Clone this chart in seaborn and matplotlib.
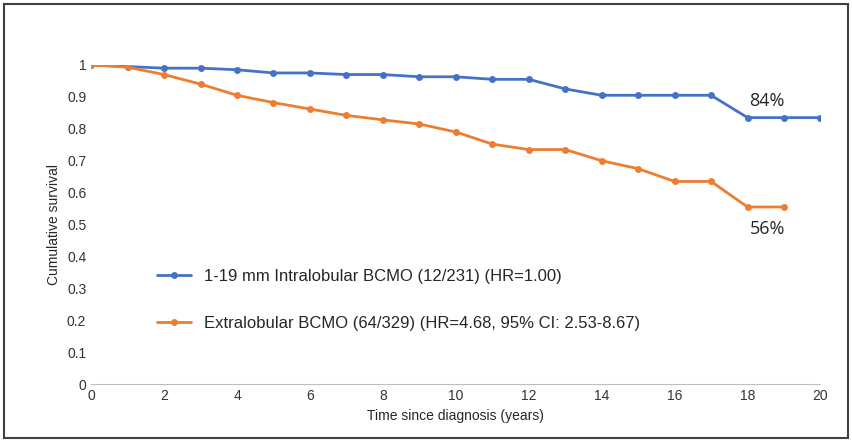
import pandas as pd
import matplotlib.pyplot as plt
import seaborn as sns

years_blue = list(range(0, 21))
surv_blue = [1.0, 0.995, 0.99, 0.99, 0.985, 0.975, 0.975, 0.97, 0.97, 0.963, 0.963,
             0.955, 0.955, 0.925, 0.905, 0.905, 0.905, 0.905, 0.835, 0.835, 0.835]
years_orange = list(range(0, 20))
surv_orange = [1.0, 0.993, 0.97, 0.94, 0.905, 0.882, 0.862, 0.842, 0.828, 0.815, 0.79,
               0.752, 0.735, 0.735, 0.70, 0.675, 0.635, 0.635, 0.555, 0.555]
label_blue = "1-19 mm Intralobular BCMO (12/231) (HR=1.00)"
label_orange = "Extralobular BCMO (64/329) (HR=4.68, 95% CI: 2.53-8.67)"

df = pd.concat([
    pd.DataFrame({"year": years_blue, "surv": surv_blue, "group": label_blue}),
    pd.DataFrame({"year": years_orange, "surv": surv_orange, "group": label_orange}),
])

sns.set_style("white")
plt.rcParams["font.family"] = ["Liberation Sans", "DejaVu Sans"]

fig = plt.figure(figsize=(8.52, 4.42), dpi=100)
ax = fig.add_axes([0.107, 0.131, 0.856, 0.722])
sns.lineplot(data=df, x="year", y="surv", hue="group", marker="o", markersize=5,
             markeredgewidth=0, linewidth=2,
             palette={label_blue: "#4472C4", label_orange: "#ED7D31"}, ax=ax)

ax.set_xlim(0, 20)
ax.set_ylim(0, 1)
ax.set_xticks(range(0, 21, 2))
ax.set_yticks([i / 10 for i in range(11)])
ax.set_yticklabels(["0", "0.1", "0.2", "0.3", "0.4", "0.5", "0.6", "0.7", "0.8", "0.9", "1"])
ax.tick_params(labelsize=10, colors="#333333", length=0)
ax.set_xlabel("Time since diagnosis (years)", fontsize=10)
ax.set_ylabel("Cumulative survival", fontsize=10)
for s in ["top", "right", "left"]:
    ax.spines[s].set_visible(False)
ax.spines["bottom"].set_color("#BFBFBF")

ax.text(18.05, 0.87, "84%", fontsize=13, family=["Open Sans", "DejaVu Sans"])
ax.text(18.05, 0.47, "56%", fontsize=13, family=["Open Sans", "DejaVu Sans"])

ax.legend(loc="lower left", bbox_to_anchor=(0.07, 0.12), frameon=False,
          fontsize=12, labelspacing=1.9, handlelength=2)

fig.patches.append(plt.Rectangle((0.005, 0.01), 0.99, 0.98, transform=fig.transFigure,
                                 fill=False, edgecolor="#404040", linewidth=1.5))
fig.savefig("out.png", dpi=100)
